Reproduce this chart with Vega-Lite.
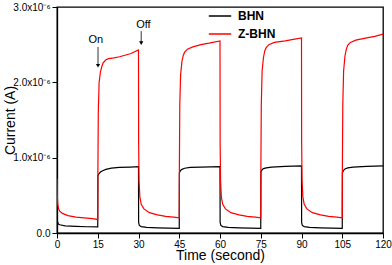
{
  "$schema": "https://vega.github.io/schema/vega-lite/v6.json",
  "width": 326,
  "height": 226,
  "autosize": "none",
  "padding": {"left": 57, "top": 7, "right": 9, "bottom": 32},
  "background": "white",
  "config": {
    "font": "Liberation Sans",
    "view": {"stroke": "black", "strokeWidth": 1.3},
    "axis": {"domainColor": "black", "domainWidth": 1.3, "tickColor": "black", "tickWidth": 1, "labelColor": "black", "labelFontSize": 10, "titleColor": "black", "titleFontWeight": "normal", "grid": false, "labelOverlap": false, "labelFlush": false}
  },
  "datasets": {
    "curves": [
      {"t": 0, "I": 0.22, "s": "BHN"}, {"t": 0.2, "I": 0.15, "s": "BHN"}, {"t": 0.5, "I": 0.12, "s": "BHN"}, {"t": 1, "I": 0.11, "s": "BHN"}, {"t": 3, "I": 0.095, "s": "BHN"}, {"t": 7, "I": 0.088, "s": "BHN"}, {"t": 11, "I": 0.083, "s": "BHN"}, {"t": 15, "I": 0.08, "s": "BHN"},
      {"t": 15.05, "I": 0.76, "s": "BHN"}, {"t": 15.5, "I": 0.79, "s": "BHN"}, {"t": 16, "I": 0.81, "s": "BHN"}, {"t": 17, "I": 0.83, "s": "BHN"}, {"t": 18, "I": 0.845, "s": "BHN"}, {"t": 20, "I": 0.86, "s": "BHN"}, {"t": 23, "I": 0.87, "s": "BHN"}, {"t": 27, "I": 0.875, "s": "BHN"}, {"t": 30, "I": 0.88, "s": "BHN"},
      {"t": 30.05, "I": 0.14, "s": "BHN"}, {"t": 30.3, "I": 0.1, "s": "BHN"}, {"t": 31, "I": 0.085, "s": "BHN"}, {"t": 33, "I": 0.075, "s": "BHN"}, {"t": 37, "I": 0.068, "s": "BHN"}, {"t": 41, "I": 0.064, "s": "BHN"}, {"t": 45, "I": 0.062, "s": "BHN"},
      {"t": 45.05, "I": 0.8, "s": "BHN"}, {"t": 45.5, "I": 0.83, "s": "BHN"}, {"t": 46, "I": 0.845, "s": "BHN"}, {"t": 47, "I": 0.86, "s": "BHN"}, {"t": 49, "I": 0.87, "s": "BHN"}, {"t": 53, "I": 0.875, "s": "BHN"}, {"t": 60, "I": 0.88, "s": "BHN"},
      {"t": 60.05, "I": 0.14, "s": "BHN"}, {"t": 60.3, "I": 0.1, "s": "BHN"}, {"t": 61, "I": 0.085, "s": "BHN"}, {"t": 63, "I": 0.075, "s": "BHN"}, {"t": 67, "I": 0.068, "s": "BHN"}, {"t": 71, "I": 0.064, "s": "BHN"}, {"t": 75, "I": 0.062, "s": "BHN"},
      {"t": 75.05, "I": 0.81, "s": "BHN"}, {"t": 75.5, "I": 0.84, "s": "BHN"}, {"t": 76, "I": 0.855, "s": "BHN"}, {"t": 77, "I": 0.865, "s": "BHN"}, {"t": 79, "I": 0.875, "s": "BHN"}, {"t": 84, "I": 0.885, "s": "BHN"}, {"t": 90, "I": 0.89, "s": "BHN"},
      {"t": 90.05, "I": 0.14, "s": "BHN"}, {"t": 90.3, "I": 0.1, "s": "BHN"}, {"t": 91, "I": 0.085, "s": "BHN"}, {"t": 93, "I": 0.075, "s": "BHN"}, {"t": 97, "I": 0.068, "s": "BHN"}, {"t": 101, "I": 0.064, "s": "BHN"}, {"t": 105, "I": 0.062, "s": "BHN"},
      {"t": 105.05, "I": 0.8, "s": "BHN"}, {"t": 105.5, "I": 0.83, "s": "BHN"}, {"t": 106, "I": 0.85, "s": "BHN"}, {"t": 107, "I": 0.865, "s": "BHN"}, {"t": 109, "I": 0.875, "s": "BHN"}, {"t": 114, "I": 0.885, "s": "BHN"}, {"t": 120, "I": 0.89, "s": "BHN"},

      {"t": 0, "I": 0.72, "s": "Z-BHN"}, {"t": 0.1, "I": 0.5, "s": "Z-BHN"}, {"t": 0.3, "I": 0.38, "s": "Z-BHN"}, {"t": 0.6, "I": 0.32, "s": "Z-BHN"}, {"t": 1, "I": 0.29, "s": "Z-BHN"}, {"t": 2, "I": 0.26, "s": "Z-BHN"}, {"t": 4, "I": 0.23, "s": "Z-BHN"}, {"t": 7, "I": 0.21, "s": "Z-BHN"}, {"t": 10, "I": 0.2, "s": "Z-BHN"}, {"t": 13, "I": 0.19, "s": "Z-BHN"}, {"t": 15, "I": 0.18, "s": "Z-BHN"},
      {"t": 15.05, "I": 0.8, "s": "Z-BHN"}, {"t": 15.2, "I": 1.6, "s": "Z-BHN"}, {"t": 15.5, "I": 2.0, "s": "Z-BHN"}, {"t": 16, "I": 2.14, "s": "Z-BHN"}, {"t": 16.5, "I": 2.21, "s": "Z-BHN"}, {"t": 17, "I": 2.26, "s": "Z-BHN"}, {"t": 18, "I": 2.3, "s": "Z-BHN"}, {"t": 19, "I": 2.315, "s": "Z-BHN"}, {"t": 21, "I": 2.325, "s": "Z-BHN"}, {"t": 23, "I": 2.34, "s": "Z-BHN"}, {"t": 25, "I": 2.36, "s": "Z-BHN"}, {"t": 27, "I": 2.38, "s": "Z-BHN"}, {"t": 30, "I": 2.43, "s": "Z-BHN"},
      {"t": 30.05, "I": 1.2, "s": "Z-BHN"}, {"t": 30.2, "I": 0.7, "s": "Z-BHN"}, {"t": 30.5, "I": 0.48, "s": "Z-BHN"}, {"t": 31, "I": 0.38, "s": "Z-BHN"}, {"t": 32, "I": 0.32, "s": "Z-BHN"}, {"t": 34, "I": 0.27, "s": "Z-BHN"}, {"t": 37, "I": 0.24, "s": "Z-BHN"}, {"t": 40, "I": 0.22, "s": "Z-BHN"}, {"t": 43, "I": 0.21, "s": "Z-BHN"}, {"t": 45, "I": 0.2, "s": "Z-BHN"},
      {"t": 45.05, "I": 0.9, "s": "Z-BHN"}, {"t": 45.2, "I": 1.7, "s": "Z-BHN"}, {"t": 45.5, "I": 2.1, "s": "Z-BHN"}, {"t": 46, "I": 2.28, "s": "Z-BHN"}, {"t": 46.5, "I": 2.36, "s": "Z-BHN"}, {"t": 47, "I": 2.4, "s": "Z-BHN"}, {"t": 48, "I": 2.44, "s": "Z-BHN"}, {"t": 50, "I": 2.47, "s": "Z-BHN"}, {"t": 53, "I": 2.5, "s": "Z-BHN"}, {"t": 56, "I": 2.52, "s": "Z-BHN"}, {"t": 60, "I": 2.55, "s": "Z-BHN"},
      {"t": 60.05, "I": 1.2, "s": "Z-BHN"}, {"t": 60.2, "I": 0.7, "s": "Z-BHN"}, {"t": 60.5, "I": 0.48, "s": "Z-BHN"}, {"t": 61, "I": 0.38, "s": "Z-BHN"}, {"t": 62, "I": 0.32, "s": "Z-BHN"}, {"t": 64, "I": 0.27, "s": "Z-BHN"}, {"t": 67, "I": 0.24, "s": "Z-BHN"}, {"t": 70, "I": 0.22, "s": "Z-BHN"}, {"t": 73, "I": 0.21, "s": "Z-BHN"}, {"t": 75, "I": 0.2, "s": "Z-BHN"},
      {"t": 75.05, "I": 0.9, "s": "Z-BHN"}, {"t": 75.2, "I": 1.7, "s": "Z-BHN"}, {"t": 75.5, "I": 2.15, "s": "Z-BHN"}, {"t": 76, "I": 2.33, "s": "Z-BHN"}, {"t": 76.5, "I": 2.42, "s": "Z-BHN"}, {"t": 77, "I": 2.46, "s": "Z-BHN"}, {"t": 78, "I": 2.5, "s": "Z-BHN"}, {"t": 80, "I": 2.53, "s": "Z-BHN"}, {"t": 84, "I": 2.55, "s": "Z-BHN"}, {"t": 87, "I": 2.57, "s": "Z-BHN"}, {"t": 90, "I": 2.59, "s": "Z-BHN"},
      {"t": 90.05, "I": 1.2, "s": "Z-BHN"}, {"t": 90.2, "I": 0.7, "s": "Z-BHN"}, {"t": 90.5, "I": 0.48, "s": "Z-BHN"}, {"t": 91, "I": 0.38, "s": "Z-BHN"}, {"t": 92, "I": 0.32, "s": "Z-BHN"}, {"t": 94, "I": 0.27, "s": "Z-BHN"}, {"t": 97, "I": 0.24, "s": "Z-BHN"}, {"t": 100, "I": 0.22, "s": "Z-BHN"}, {"t": 103, "I": 0.21, "s": "Z-BHN"}, {"t": 105, "I": 0.2, "s": "Z-BHN"},
      {"t": 105.05, "I": 0.9, "s": "Z-BHN"}, {"t": 105.2, "I": 1.7, "s": "Z-BHN"}, {"t": 105.5, "I": 2.15, "s": "Z-BHN"}, {"t": 106, "I": 2.35, "s": "Z-BHN"}, {"t": 106.5, "I": 2.44, "s": "Z-BHN"}, {"t": 107, "I": 2.49, "s": "Z-BHN"}, {"t": 108, "I": 2.53, "s": "Z-BHN"}, {"t": 110, "I": 2.56, "s": "Z-BHN"}, {"t": 114, "I": 2.59, "s": "Z-BHN"}, {"t": 117, "I": 2.61, "s": "Z-BHN"}, {"t": 120, "I": 2.64, "s": "Z-BHN"}
    ],
    "notes": [
      {"label": "On", "tx": 14.3, "ty": 2.56, "ax": 15.1, "ay1": 2.47, "ay2": 2.22},
      {"label": "Off", "tx": 31.8, "ty": 2.76, "ax": 31.0, "ay1": 2.68, "ay2": 2.52}
    ]
  },
  "layer": [
    {
      "data": {"name": "curves"},
      "mark": {"type": "line", "strokeWidth": 1.2, "clip": true},
      "encoding": {
        "x": {"field": "t", "type": "quantitative", "scale": {"domain": [0, 120], "nice": false},
          "axis": {"title": "Time  (second)", "titleFontSize": 14, "titleBaseline": "middle", "titleY": 22, "labelOverlap": false, "values": [0, 7.5, 15, 22.5, 30, 37.5, 45, 52.5, 60, 67.5, 75, 82.5, 90, 97.5, 105, 112.5, 120],
            "labelExpr": "indexof([0, 15, 30, 45, 60, 75, 90, 105, 120], datum.value) >= 0 ? datum.label : ''", "labelPadding": 1,
            "tickSize": {"condition": {"test": "indexof([0, 15, 30, 45, 60, 75, 90, 105, 120], datum.value) >= 0", "value": 5}, "value": 3}}},
        "y": {"field": "I", "type": "quantitative", "scale": {"domain": [0, 3], "nice": false},
          "axis": {"title": "Current (A)", "titleFontSize": 14, "titleX": -47, "titleY": 113, "titleAnchor": "middle", "titleBaseline": "middle", "titleAngle": -90, "labelOverlap": false, "values": [0, 0.5, 1, 1.5, 2, 2.5, 3],
            "labelExpr": "datum.value === 0 ? '0.0' : datum.value < 1 ? format(datum.value * 10, '.1f') + 'x10⁻⁷' : format(datum.value, '.1f') + 'x10⁻⁶'",
            "labelPadding": 2, "tickSize": 5}},
        "color": {"field": "s", "type": "nominal", "scale": {"domain": ["BHN", "Z-BHN"], "range": ["#000000", "#ff0000"]},
          "legend": {"title": null, "orient": "none", "legendX": 151, "legendY": -3, "symbolType": "stroke", "symbolSize": 500, "symbolStrokeWidth": 1.5, "labelFontSize": 12, "labelFontWeight": "bold", "labelColor": "black", "rowPadding": -5, "labelOffset": 6}},
        "order": {"field": "t", "type": "quantitative"}
      }
    },
    {
      "data": {"name": "notes"},
      "mark": {"type": "text", "fontSize": 11, "color": "black"},
      "encoding": {"x": {"field": "tx", "type": "quantitative"}, "y": {"field": "ty", "type": "quantitative"}, "text": {"field": "label"}}
    },
    {
      "data": {"name": "notes"},
      "mark": {"type": "rule", "color": "black", "strokeWidth": 0.8},
      "encoding": {"x": {"field": "ax", "type": "quantitative"}, "y": {"field": "ay1", "type": "quantitative"}, "y2": {"field": "ay2"}}
    },
    {
      "data": {"name": "notes"},
      "mark": {"type": "point", "shape": "triangle-down", "filled": true, "color": "black", "size": 18, "opacity": 1},
      "encoding": {"x": {"field": "ax", "type": "quantitative"}, "y": {"field": "ay2", "type": "quantitative"}}
    }
  ]
}
